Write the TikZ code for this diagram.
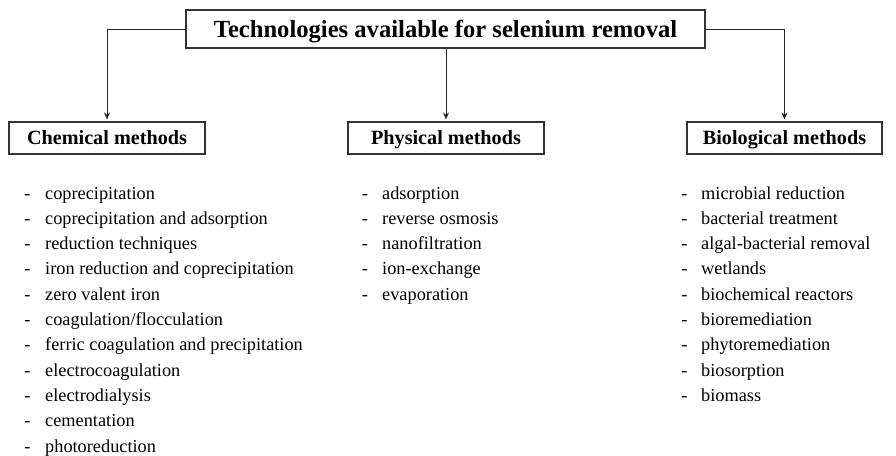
\documentclass[tikz,border=0pt]{standalone}
\usepackage{fontspec}
\setmainfont{Liberation Serif}
\usetikzlibrary{arrows.meta}

\tikzset{
  box/.style={draw=black!80,line width=1.1pt,inner sep=0pt,text height=17pt,text depth=3.6pt,font=\bfseries\fontsize{20.2}{24}\selectfont,minimum height=32pt},
  item/.style={inner sep=0pt,anchor=west,text height=12pt,text depth=4pt,font=\fontsize{18.3}{21}\selectfont},
  dashmark/.style={inner sep=0pt,text height=12pt,text depth=4pt,font=\fontsize{18.3}{21}\selectfont},
  link/.style={draw=black!85,line width=0.9pt,-{Stealth[length=7pt,width=6pt]},shorten >=2pt}
}

\begin{document}
\begin{tikzpicture}
    [x=1pt,y=-1pt]
    \useasboundingbox (0,0) rectangle (896,455);
    \node [box,minimum width=519pt,minimum height=38pt,text height=20pt,text depth=3.8pt,font=\bfseries\fontsize{24.6}{29}\selectfont] (title) at (445.5,29) {Technologies available for selenium removal};
    \node [box,minimum width=196pt] (chem) at (107,138) {Chemical methods};
    \node [box,minimum width=196pt] (phys) at (446,138) {Physical methods};
    \node [box,minimum width=195pt] (bio) at (784.5,138) {Biological methods};
    \draw[link] (title.west) -| (chem.north);
    \draw[link] (title.south-|phys.north) -- (phys.north);
    \draw[link] (title.east) -| (bio.north);
    % chemical
    \foreach \txt [count=\i] in {coprecipitation,coprecipitation and adsorption,reduction techniques,iron reduction and coprecipitation,zero valent iron,coagulation/flocculation,ferric coagulation and precipitation,electrocoagulation,electrodialysis,cementation,photoreduction}{
      \node [dashmark] (chemdash\i) at (27.5,{195+25.3*(\i-1)}) {-};
      \node [item] (chem\i) at (45,{195+25.3*(\i-1)}) {\txt};
    }
    % physical
    \foreach \txt [count=\i] in {adsorption,reverse osmosis,nanofiltration,ion-exchange,evaporation}{
      \node [dashmark] (physdash\i) at (365,{195+25.3*(\i-1)}) {-};
      \node [item] (phys\i) at (382,{195+25.3*(\i-1)}) {\txt};
    }
    % biological
    \foreach \txt [count=\i] in {microbial reduction,bacterial treatment,algal-bacterial removal,wetlands,biochemical reactors,bioremediation,phytoremediation,biosorption,biomass}{
      \node [dashmark] (biodash\i) at (684.5,{195+25.3*(\i-1)}) {-};
      \node [item] (bio\i) at (701,{195+25.3*(\i-1)}) {\txt};
    }
\end{tikzpicture}
\end{document}
